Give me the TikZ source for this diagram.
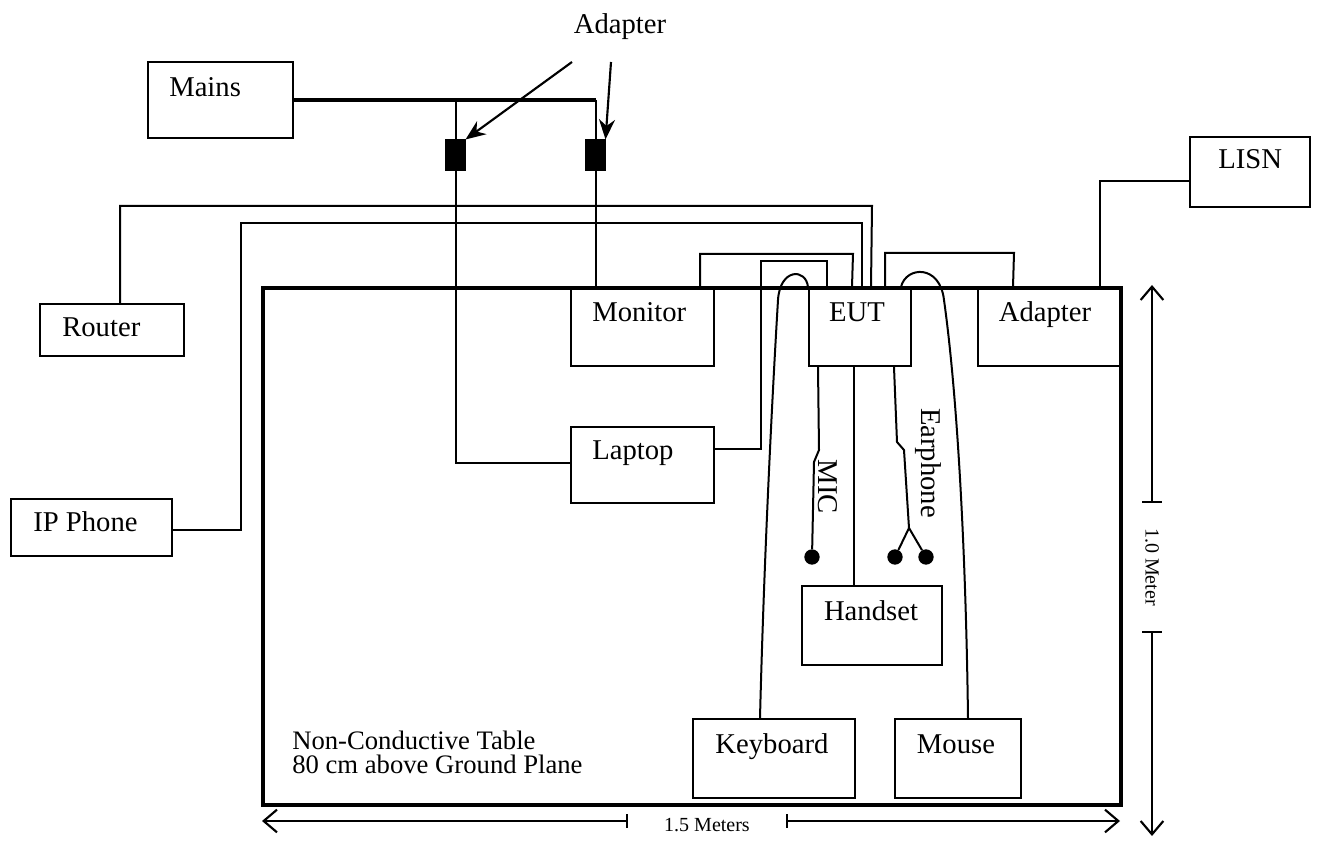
\documentclass[tikz,border=0pt]{standalone}
\usepackage{fontspec}
\setmainfont{Liberation Serif}
\usetikzlibrary{fit,calc,arrows.meta}
\begin{document}
\begin{tikzpicture}[x=0.75pt,y=-0.75pt,
  box/.style={draw, line width=1.5pt, inner sep=0pt},
  wire/.style={line width=1.5pt},
  mainswire/.style={line width=3pt},
  lbl/.style={font=\fontsize{21.5}{26}\selectfont, inner sep=0pt},
  midlbl/.style={font=\fontsize{20}{17.5}\selectfont, inner sep=0pt, align=left},
  small/.style={font=\fontsize{15}{18}\selectfont, inner sep=0pt},
  plug/.style={draw, fill=black, inner sep=0pt, line width=0.8pt},
  jack/.style={circle, fill=black, inner sep=0pt, minimum size=11.5pt},
  dimarrow/.style={line width=1.3pt, -{Straight Barb[length=10pt,width=17pt,line width=1.6pt]}},
  dimtick/.style={line width=1.3pt},
  callout/.style={line width=1.6pt, -{Stealth[length=15pt,width=12pt]}}]
\useasboundingbox (0,0) rectangle (1340,841);

% table
\node[box, line width=2.6pt, fit={(263,288) (1121,805)}] (table) {};

% boxes
\node[box, fit={(148,62) (293,138)}] (mains) {};
\node[box, fit={(40,304) (184,356)}] (router) {};
\node[box, fit={(11,499) (172,556)}] (ipphone) {};
\node[box, fit={(1190,137) (1310,207)}] (lisn) {};
\node[box, fit={(571,288) (714,366)}] (monitor) {};
\node[box, fit={(571,427) (714,503)}] (laptop) {};
\node[box, fit={(809,288) (911,366)}] (eut) {};
\node[box, fit={(978,288) (1121,366)}] (adapter) {};
\node[box, fit={(802,586) (942,665)}] (handset) {};
\node[box, fit={(693,719) (855,798)}] (keyboard) {};
\node[box, fit={(895,719) (1021,798)}] (mouse) {};
\node[plug, fit={(446,140) (465,170)}] (ad1) {};
\node[plug, fit={(586,140) (605,170)}] (ad2) {};
\node[jack] (micjack) at (812,557) {};
\node[jack] (ej1) at (895,557) {};
\node[jack] (ej2) at (926,557) {};

% texts
\node[lbl, anchor=base west] (tmains) at (169,97) {Mains};
\node[lbl, anchor=base west] (trouter) at (62,337) {Router};
\node[lbl, anchor=base west] (tip) at (33,532) {IP Phone};
\node[lbl, anchor=base west] (tlisn) at (1218,169) {LISN};
\node[lbl, anchor=base west] (tmon) at (592,322) {Monitor};
\node[lbl, anchor=base west] (tlap) at (592,460) {Laptop};
\node[lbl, anchor=base] (teut) at (857,322) {EUT};
\node[lbl, anchor=base] (tadp) at (1045,322) {Adapter};
\node[lbl, anchor=base] (thand) at (871,620) {Handset};
\node[lbl, anchor=base] (tkey) at (772,753) {Keyboard};
\node[lbl, anchor=base] (tmouse) at (956,753) {Mouse};
\node[lbl, anchor=base] (tadlabel) at (620,34) {Adapter};
\node[lbl, rotate=-90] (tmic) at (828,487) {MIC};
\node[lbl, rotate=-90] (tear) at (928,463) {Earphone};
\node[midlbl, anchor=base west] (ttab) at (292,773) {Non-Conductive Table\\80 cm above Ground Plane};

% mains wiring
\draw[mainswire] (mains.east) -- (mains.east -| ad2.north);
\draw[wire] (mains.east -| ad1.north) -- (ad1.north);
\draw[wire] (mains.east -| ad2.north) -- (ad2.north);
\draw[wire] (ad1.south) |- ($(laptop.west)+(0,-2)$);
\draw[wire] (ad2.south) -- (ad2.south |- monitor.north);

% callouts
\coordinate (c1) at (572,62);
\coordinate (c2) at (611,62);
\draw[callout] (c1) -- (ad1.north east);
\draw[callout] (c2) -- (ad2.north east);

% cables into EUT top
\draw[wire] ($(router.north)+(8,0)$) |- (872,206) -- ($(eut.north west)+(63,0)$);
\draw[wire] ($(ipphone.east)+(0,3)$) -| (241,223) -| ($(eut.north west)+(54,0)$);
\draw[wire] ($(monitor.north east)+(-15,0)$) |- (853,254) -- ($(eut.north west)+(44,0)$);
\draw[wire] ($(laptop.north east)!0.29!(laptop.south east)$) -| (761,261) -| ($(eut.north west)+(19,0)$);
\draw[wire] ($(eut.north west)+(77,0)$) |- (1014,253) -- ($(adapter.north west)+(36,0)$);
\draw[wire] ($(adapter.north west)+(123,0)$) |- ($(lisn.west)+(0,9)$);

% keyboard and mouse cables
\draw[wire] ($(keyboard.north west)+(68,0)$) .. controls (764,560) and (772,400) .. (778,300)
  .. controls (780,268) and (806,268) .. (eut.north west);
\draw[wire] ($(mouse.north west)+(74,0)$) .. controls (966,560) and (958,400) .. (944,300)
  .. controls (940,264) and (906,266) .. ($(eut.north west)+(93,0)$);

% EUT bottom cables
\draw[wire] ($(eut.south west)+(10,0)$) -- (819,450) -- (814,462) -- (micjack);
\draw[wire] ($(eut.south west)+(46,0)$) -- ($(handset.north west)+(53,0)$);
\draw[wire] ($(eut.south west)+(86,0)$) -- (897,442) -- (904,450) -- (909,528) coordinate (esplit);
\draw[wire] (esplit) -- (ej1);
\draw[wire] (esplit) -- (ej2);

% dimensions
\coordinate (hl) at (262,821);
\coordinate (ht1) at (627,821);
\coordinate (ht2) at (787,821);
\coordinate (hr) at (1120,821);
\draw[dimarrow] (ht1) -- (hl);
\draw[dimarrow] (ht2) -- (hr);
\draw[dimtick] ($(ht1)+(0,-7)$) -- ($(ht1)+(0,7)$);
\draw[dimtick] ($(ht2)+(0,-7)$) -- ($(ht2)+(0,7)$);
\node[small] (hdim) at (707,825) {1.5 Meters};

\coordinate (vt) at (1152,285);
\coordinate (vt1) at (1152,502);
\coordinate (vt2) at (1152,632);
\coordinate (vb) at (1152,836);
\draw[dimarrow] (vt1) -- (vt);
\draw[dimarrow] (vt2) -- (vb);
\draw[dimtick] ($(vt1)+(-10,0)$) -- ($(vt1)+(10,0)$);
\draw[dimtick] ($(vt2)+(-10,0)$) -- ($(vt2)+(10,0)$);
\node[small, rotate=-90] (vdim) at (1152,567) {1.0 Meter};
\end{tikzpicture}
\end{document}
